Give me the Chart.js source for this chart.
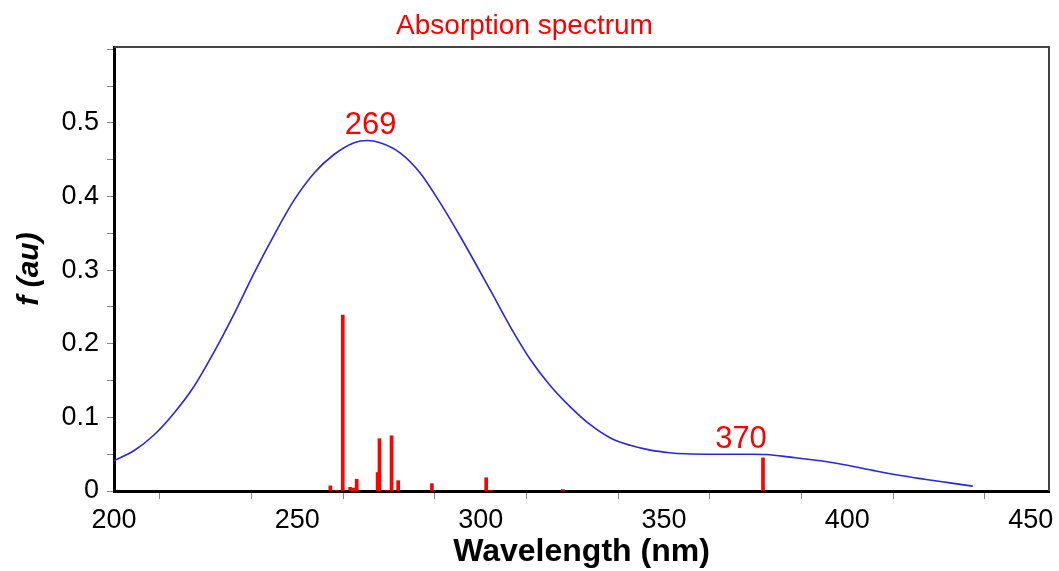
<!DOCTYPE html>
<html>
<head>
<meta charset="utf-8">
<script src="https://cdn.jsdelivr.net/npm/chart.js@4"></script>
<style>
  html, body { margin: 0; padding: 0; background: #fff; }
  #wrap { width: 1059px; height: 571px; }
</style>
</head>
<body>
<div id="wrap"><canvas id="spectrum"></canvas></div>
<script>
// broadened spectrum
const curveX = [200, 205.5, 210.9, 216.4, 221.8, 227.3, 232.8, 238.2, 243.7, 249.1, 254.6, 260, 265.5, 269,
  272.6, 278.1, 283.5, 289, 294.4, 302.6, 308.1, 313.5, 319, 324.5, 329.9, 335.4, 340.8, 346.3, 351.5,
  356, 362, 368, 374, 378, 384.5, 392.7, 400, 407, 414.5, 421, 428, 434.2];
const curveY = [0.041, 0.055, 0.076, 0.106, 0.142, 0.189, 0.241, 0.296, 0.348, 0.395, 0.432, 0.457, 0.473, 0.476,
  0.473, 0.459, 0.432, 0.391, 0.346, 0.273, 0.223, 0.179, 0.143, 0.114, 0.090, 0.072, 0.062, 0.0555, 0.052,
  0.0505, 0.050, 0.050, 0.050, 0.0495, 0.046, 0.041, 0.035, 0.028, 0.021, 0.016, 0.011, 0.0066];

// oscillator strengths (sticks)
const stickX = [259.0, 260.8, 262.4, 264.4, 265.3, 266.2, 271.9, 272.4, 274.4, 275.7, 277.5, 286.7, 301.5, 302.8, 322.4, 377.0];
const stickF = [0.007, 0.001, 0.239, 0.005, 0.004, 0.016, 0.025, 0.071, 0.001, 0.075, 0.014, 0.010, 0.018, 0.001, 0.002, 0.045];

// peak labels
const peakText = ["269", "370"];
const peakX = [270, 371];
const peakY = [0.485, 0.058];

const FONT = "'Liberation Sans', Arial, sans-serif";

const extras = {
  id: "extras",
  afterDraw(chart) {
    const c = chart.ctx, a = chart.chartArea;
    const xs = chart.scales.x, ys = chart.scales.y;
    c.save();
    // top and right frame
    c.strokeStyle = "#444";
    c.lineWidth = 2;
    c.beginPath();
    c.moveTo(a.left, a.top);
    c.lineTo(a.right, a.top);
    c.lineTo(a.right, a.bottom);
    c.stroke();
    // peak labels
    c.fillStyle = "#ff0000";
    c.font = "31px " + FONT;
    c.textAlign = "center";
    c.textBaseline = "alphabetic";
    peakText.forEach((t, i) => {
      c.fillText(t, xs.getPixelForValue(peakX[i]), ys.getPixelForValue(peakY[i]));
    });
    c.restore();
  }
};

new Chart(document.getElementById("spectrum"), {
  type: "scatter",
  data: {
    datasets: [
      {
        type: "bar",
        label: "f",
        data: stickX.map((x, i) => ({ x: x, y: stickF[i] })),
        backgroundColor: "#ff0000",
        borderWidth: 0,
        barThickness: 3,
        order: 2
      },
      {
        type: "line",
        label: "spectrum",
        data: curveX.map((x, i) => ({ x: x, y: curveY[i] })),
        borderColor: "#2626e6",
        borderWidth: 1.6,
        pointRadius: 0,
        fill: false,
        cubicInterpolationMode: "monotone",
        order: 1
      }
    ]
  },
  options: {
    responsive: true,
    maintainAspectRatio: false,
    animation: false,
    layout: { padding: { right: 10 } },
    plugins: {
      legend: { display: false },
      tooltip: { enabled: false },
      title: {
        display: true,
        text: "Absorption spectrum",
        color: "#ff0000",
        font: { family: FONT, size: 28, weight: "normal" },
        padding: { top: 9.5, bottom: 3.9 }
      }
    },
    scales: {
      x: {
        type: "linear",
        min: 200,
        max: 455,
        offset: false,
        afterFit: (s) => { s.height = 80; },
        ticks: {
          stepSize: 25,
          includeBounds: false,
          autoSkip: false,
          maxRotation: 0,
          padding: 5,
          color: "#000",
          font: { family: FONT, size: 27 },
          callback: (v) => (v % 50 === 0 ? String(v) : "")
        },
        grid: { drawOnChartArea: false, drawTicks: true, tickLength: 8, color: "#888" },
        border: { display: true, color: "#000", width: 3 },
        title: {
          display: true,
          text: "Wavelength (nm)",
          color: "#000",
          font: { family: FONT, size: 32, weight: "bold" },
          padding: { top: 0, bottom: 0 }
        }
      },
      y: {
        min: 0,
        max: 0.603,
        afterFit: (s) => { s.width = 114; },
        ticks: {
          stepSize: 0.05,
          includeBounds: false,
          autoSkip: false,
          padding: 8,
          color: "#000",
          font: { family: FONT, size: 27 },
          callback: (v) => {
            const t = Math.round(v * 100);
            if (t % 10 !== 0 || t > 55) return "";
            return t === 0 ? "0" : (t / 100).toFixed(1);
          }
        },
        grid: { drawOnChartArea: false, drawTicks: true, tickLength: 7, color: "#888" },
        border: { display: true, color: "#000", width: 3 },
        title: {
          display: true,
          text: "f (au)",
          color: "#000",
          font: { family: FONT, size: 30, weight: "bold", style: "italic" },
          padding: { top: 12, bottom: 0 }
        }
      }
    }
  },
  plugins: [extras]
});
</script>
</body>
</html>
